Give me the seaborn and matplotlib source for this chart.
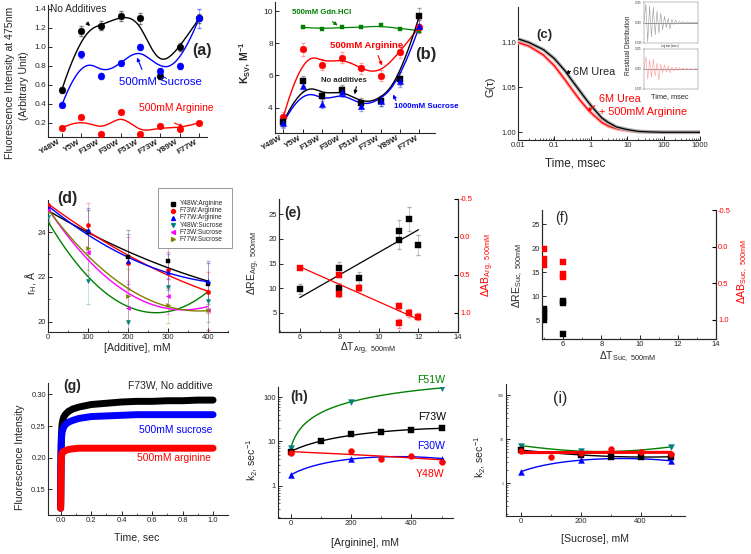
import numpy as np
import pandas as pd
import matplotlib
matplotlib.use("Agg")
import matplotlib.pyplot as plt
import seaborn as sns
from matplotlib.patches import FancyArrowPatch, Rectangle
from matplotlib.lines import Line2D
from matplotlib.ticker import FixedLocator, FixedFormatter, MultipleLocator, NullFormatter, LogLocator

sns.set_style("ticks")
plt.rcParams['font.family'] = ['Liberation Sans', 'DejaVu Sans']
plt.rcParams['mathtext.default'] = 'regular'
plt.rcParams['axes.linewidth'] = 0.8

# ---------------- data ----------------
mutants = ["Y48W", "Y5W", "F19W", "F30W", "F51W", "F73W", "Y89W", "F77W"]
# (a) fluorescence intensity at 475 nm
a_none = [0.545, 1.168, 1.224, 1.326, 1.30, 0.696, 0.999, 1.30]
a_none_err = [0.03, 0.05, 0.05, 0.05, 0.06, 0.03, 0.04, 0.05]
a_suc = [0.383, 0.921, 0.693, 0.826, 1.0, 0.742, 0.798, 1.30]
a_suc_err = [0.02, 0.04, 0.03, 0.03, 0.03, 0.03, 0.03, 0.10]
a_arg = [0.14, 0.256, 0.08, 0.313, 0.08, 0.161, 0.137, 0.20]

# (b) Ksv
b_none = [3.11, 5.66, 4.69, 5.12, 4.29, 4.42, 5.79, 9.71]
b_none_err = [0.3, 0.3, 0.3, 0.3, 0.3, 0.3, 0.4, 0.5]
b_arg = [3.42, 7.61, 6.67, 7.09, 6.43, 5.99, 7.47, 9.02]
b_arg_err = [0.3, 0.4, 0.35, 0.35, 0.35, 0.35, 0.4, 0.4]
b_suc = [3.05, 5.33, 4.25, 4.98, 4.08, 4.42, 5.64, 9.07]
b_suc_err = [0.3, 0.3, 0.3, 0.3, 0.3, 0.3, 0.35, 0.4]
b_gdn = [8.98, 8.90, 8.98, 8.98, 9.10, 8.90, 8.78]   # Y5W..F77W

# (c) FCS autocorrelation
c_time = [0.01, 0.02, 0.05, 0.1, 0.2, 0.3, 0.5, 0.7, 1, 2, 3, 5, 10, 20, 50, 100, 300, 1000]
c_urea = [1.104, 1.100, 1.092, 1.082, 1.068, 1.058, 1.046, 1.038, 1.030, 1.016, 1.011,
          1.006, 1.003, 1.001, 1.0003, 1.0, 1.0, 1.0]
c_urea_arg = [1.100, 1.096, 1.086, 1.074, 1.058, 1.048, 1.036, 1.029, 1.022, 1.011, 1.007,
              1.004, 1.002, 1.0007, 1.0002, 1.0, 1.0, 1.0]
res_idx = list(range(30))
res_urea = [0.0, 0.9, -0.95, 0.8, -0.7, 0.75, -0.6, 0.55, -0.5, 0.45, -0.35, 0.3, -0.25, 0.2,
            -0.3, 0.15, -0.1, 0.12, -0.08, 0.06, -0.05, 0.05, -0.04, 0.03, -0.03, 0.02, -0.02,
            0.01, 0.0, 0.0]
res_urea_arg = [0.0, 0.6, -0.5, 0.45, -0.4, 0.5, -0.35, 0.3, -0.55, 0.25, -0.2, 0.2, -0.15,
                0.15, -0.2, 0.1, -0.1, 0.1, -0.08, 0.08, -0.05, 0.05, -0.04, 0.04, -0.03, 0.02,
                -0.02, 0.01, 0.0, 0.0]

# (d) hydrodynamic radius
d_conc = [0, 100, 200, 300, 400]
d_labels = ["Y48W:Arginine", "F73W:Arginine", "F77W:Arginine",
            "Y48W:Sucrose", "F73W:Sucrose", "F77W:Sucrose"]
d_y48_arg = [25.0, 24.0, 22.9, 22.7, 21.7]
d_f73_arg = [25.2, 24.3, 22.6, 22.3, 21.3]
d_f77_arg = [25.1, 24.1, 22.7, 22.2, 21.8]
d_y48_suc = [24.7, 21.8, 20.0, 21.55, 20.9]
d_f73_suc = [25.0, 23.1, 20.6, 21.15, 20.5]
d_f77_suc = [24.9, 23.3, 21.15, 20.75, 20.5]
d_err = [0.6, 1.0, 1.2, 0.8, 0.9]

# (e) arginine correlations
e_dT = [6, 8, 8, 9, 11, 11, 11.5, 12]
e_dRE = [9.8, 14.0, 10.0, 12.0, 21.7, 19.8, 24.0, 18.8]
e_dRE_err = [1.0, 1.4, 1.0, 1.2, 2.2, 1.8, 2.4, 2.0]
e_dAB = [0.41, 0.50, 0.75, 0.675, 0.917, 1.14, 1.004, 1.05]
e_dAB_err = [0.02, 0.03, 0.04, 0.04, 0.05, 0.06, 0.05, 0.05]

# (f) sucrose correlations
f_dT_RE = [5, 5, 5, 5, 5, 6, 6, 6]
f_dRE = [5.0, 5.6, 6.2, 6.8, 7.2, 8.6, 8.9, 2.05]
f_dT_AB = [5, 5, 5, 6, 6, 6]
f_dAB = [0.032, 0.168, 0.25, 0.214, 0.377, 0.41]

# (g) stopped-flow kinetics F73W
g_time = [0.0, 0.002, 0.004, 0.006, 0.008, 0.01, 0.015, 0.02, 0.03, 0.05, 0.08, 0.12,
          0.2, 0.3, 0.4, 0.5, 0.6, 0.7, 0.8, 0.9, 1.0]
g_none = [0.125, 0.20, 0.228, 0.240, 0.248, 0.254, 0.260, 0.264, 0.268, 0.273, 0.277, 0.280,
          0.284, 0.286, 0.288, 0.289, 0.289, 0.290, 0.290, 0.291, 0.291]
g_suc = [0.12, 0.19, 0.222, 0.232, 0.237, 0.241, 0.245, 0.248, 0.252, 0.256, 0.259, 0.262,
         0.265, 0.266, 0.267, 0.268, 0.268, 0.268, 0.268, 0.268, 0.268]
g_arg = [0.12, 0.17, 0.195, 0.203, 0.206, 0.208, 0.209, 0.210, 0.211, 0.213, 0.214, 0.215,
         0.215, 0.215, 0.215, 0.215, 0.215, 0.215, 0.215, 0.215, 0.215]

# (h) k2 vs arginine
h_x_f51 = [0, 200, 500]; h_f51 = [7.0, 78.0, 160.0]
h_x_f73 = [0, 100, 200, 300, 400, 500]; h_f73 = [5.8, 10.0, 14.5, 16.0, 18.0, 20.0]
h_x_f30 = [0, 200, 500]; h_f30 = [1.75, 4.0, 4.1]
h_x_y48 = [0, 200, 300, 400, 500]; h_y48 = [5.5, 6.0, 4.0, 4.7, 3.5]

# (i) k2 vs sucrose
i_x_f51 = [0, 200, 500]; i_f51 = [7.1, 5.3, 6.6]
i_x_f73 = [0, 200, 300, 400, 500]; i_f73 = [5.6, 4.3, 4.0, 4.0, 3.9]
i_x_f30 = [0, 200, 500]; i_f30 = [1.8, 3.3, 3.2]
i_x_y48 = [0, 100, 200, 300, 400, 500]; i_y48 = [5.4, 3.9, 4.8, 6.0, 5.0, 4.6]

# ---------------- helpers ----------------
W, H = 751, 554
fig = plt.figure(figsize=(W / 100, H / 100), dpi=100)


def add_ax(l, t, r, b):
    return fig.add_axes([l / W, 1 - b / H, (r - l) / W, (b - t) / H])


def ftext(x, y, s, **kw):
    kw.setdefault('ha', 'left')
    kw.setdefault('va', 'center')
    fig.text(x / W, 1 - y / H, s, **kw)


def arrow(x0, y0, x1, y1, color):
    p = FancyArrowPatch((x0 / W, 1 - y0 / H), (x1 / W, 1 - y1 / H), transform=fig.transFigure,
                        arrowstyle='-|>', mutation_scale=5, lw=0.8, color=color)
    fig.add_artist(p)


def bspline(xp, yp, num=300):
    xp = np.asarray(xp, float); yp = np.asarray(yp, float)
    n = len(xp); k = 3
    kv = np.concatenate([np.zeros(k), np.arange(n - k + 1), np.full(k, n - k)]).astype(float)
    u = np.linspace(0, n - k, num)
    u[-1] -= 1e-9
    B = np.zeros((num, len(kv) - 1))
    for i in range(len(kv) - 1):
        B[:, i] = ((kv[i] <= u) & (u < kv[i + 1])).astype(float)
    for p in range(1, k + 1):
        Bn = np.zeros((num, len(kv) - 1 - p))
        for i in range(len(kv) - 1 - p):
            d1 = kv[i + p] - kv[i]; d2 = kv[i + p + 1] - kv[i + 1]
            t1 = (u - kv[i]) / d1 * B[:, i] if d1 > 0 else 0
            t2 = (kv[i + p + 1] - u) / d2 * B[:, i + 1] if d2 > 0 else 0
            Bn[:, i] = t1 + t2
        B = Bn
    return B @ xp, B @ yp


def style(ax, fs=5.5):
    sns.despine(ax=ax)
    ax.tick_params(direction='in', labelsize=fs, length=3, width=0.7, pad=1.5)
    ax.tick_params(which='minor', direction='in', length=1.5, width=0.5)


def pts(ax, x, y, color, marker, s, **kw):
    sns.scatterplot(x=list(x), y=list(y), ax=ax, color=color, marker=marker, s=s,
                    edgecolor=color, linewidth=0.3, zorder=4, legend=False, **kw)


def curve(ax, x, y, color, lw=1.0, **kw):
    sns.lineplot(x=np.asarray(x), y=np.asarray(y), ax=ax, color=color, lw=lw,
                 sort=False, estimator=None, zorder=3, **kw)


# ---------------- (a) ----------------
ax = add_ax(48, 5, 207, 137)
xi = np.arange(len(mutants))
for yv, err, col in [(a_none, a_none_err, 'black'), (a_suc, a_suc_err, 'blue'), (a_arg, None, 'red')]:
    bx, by = bspline(xi, yv)
    curve(ax, bx, by, col)
    if err is not None:
        ax.errorbar(xi, yv, yerr=err, fmt='none', ecolor=col, elinewidth=0.5, capsize=1.5, alpha=0.5)
    pts(ax, xi, yv, col, 'o', 24)
ax.set_xlim(-0.7, 7.4); ax.set_ylim(0.049, 1.442)
ax.set_xticks(xi); ax.set_xticklabels(mutants, rotation=30, ha='right', fontweight='bold', fontsize=5)
ax.set_yticks([0.2, 0.4, 0.6, 0.8, 1.0, 1.2, 1.4])
ax.set_yticklabels(["0.2", "0.4", "0.6", "0.8", "1.0", "1.2", "1.4"])
style(ax, 6)
ax.tick_params(axis='x', pad=1)
ax.set_xlabel(""); ax.set_ylabel("")
ftext(10, 83, "Fluorescence Intensity at 475nm", rotation=90, ha='center', fontsize=7.6)
ftext(24, 86, "(Arbitrary Unit)", rotation=90, ha='center', fontsize=7.6)
ftext(50, 9, "No Additives", fontsize=7.3)
ftext(202, 51, "(a)", ha='center', fontsize=11.5, fontweight='bold')
ftext(119, 82, "500mM Sucrose", fontsize=8.2, color='blue')
ftext(139, 108, "500mM Arginine", fontsize=7.4, color='red')
arrow(85, 21, 92, 28, 'black')
arrow(143, 72, 136, 55, 'blue')
arrow(172, 122, 186, 128, 'red')

# ---------------- (b) ----------------
ax = add_ax(275, 2, 435, 133)
bx, by = bspline(xi[1:], b_gdn)
curve(ax, bx, by, '#008000', lw=0.9)
pts(ax, xi[1:], b_gdn, '#008000', 's', 6)
for yv, err, col, mk in [(b_arg, b_arg_err, 'red', 'o'), (b_none, b_none_err, 'black', 's'),
                         (b_suc, b_suc_err, 'blue', '^')]:
    bx, by = bspline(xi, yv)
    curve(ax, bx, by, col)
    ax.errorbar(xi, yv, yerr=err, fmt='none', ecolor=col, elinewidth=0.5, capsize=1.5, alpha=0.35)
    pts(ax, xi, yv, col, mk, 24 if mk == 'o' else 20)
ax.set_xlim(-0.43, 7.8); ax.set_ylim(2.42, 10.56)
ax.set_xticks(xi); ax.set_xticklabels(mutants, rotation=30, ha='right', fontweight='bold', fontsize=5)
ax.set_yticks([4, 6, 8, 10])
style(ax, 6)
ax.tick_params(axis='x', pad=1)
ax.set_xlabel(""); ax.set_ylabel("")
ftext(245, 63, "K$_{SV}$, M$^{-1}$", rotation=90, ha='center', fontsize=7.5, fontweight='bold')
ftext(292, 13, "500mM Gdn.HCl", fontsize=5.6, fontweight='bold', color='#008000')
ftext(330, 45, "500mM Arginine", fontsize=6.8, fontweight='bold', color='red')
ftext(426, 55, "(b)", ha='center', fontsize=12, fontweight='bold')
ftext(321, 80, "No additives", fontsize=5.6, fontweight='bold')
ftext(394, 107, "1000mM Sucrose", fontsize=5.7, fontweight='bold', color='blue')
arrow(330, 20, 340, 27, '#008000')
arrow(377, 53, 383, 68, 'red')
arrow(357, 84, 354, 97, 'black')
arrow(397, 103, 392, 92, 'blue')

# ---------------- (c) ----------------
ax = add_ax(518, 7, 700, 140)
for yv, col, halo in [(c_urea_arg, 'red', '#ffaaaa'), (c_urea, 'black', '#aaaaaa')]:
    curve(ax, c_time, yv, halo, lw=2.6)
    curve(ax, c_time, yv, col, lw=0.9)
ax.set_xscale('log')
ax.set_xlim(0.01, 1000); ax.set_ylim(0.9914, 1.1395)
ax.xaxis.set_major_locator(FixedLocator([0.01, 0.1, 1, 10, 100, 1000]))
ax.xaxis.set_major_formatter(FixedFormatter(["0.01", "0.1", "1", "10", "100", "1000"]))
ax.xaxis.set_minor_locator(LogLocator(base=10, subs=np.arange(2, 10)))
ax.xaxis.set_minor_formatter(NullFormatter())
ax.set_yticks([1.00, 1.05, 1.10]); ax.set_yticklabels(["1.00", "1.05", "1.10"])
style(ax, 5.5)
ax.set_xlabel(""); ax.set_ylabel("")
ftext(490, 87, "G(τ)", rotation=90, ha='center', fontsize=8)
ftext(575, 164, "Time, msec", ha='center', fontsize=8.5)
ftext(544, 35, "(c)", ha='center', fontsize=9.5, fontweight='bold')
ftext(573, 72, "6M Urea", fontsize=7.9)
ftext(599, 99, "6M Urea", fontsize=7.8, color='red')
ftext(599, 112, "+ 500mM Arginine", fontsize=7.8, color='red')
arrow(573, 70, 563, 75, 'black')
arrow(597, 104, 585, 113, 'red')
for (t, b), yv, col in [((2, 43), res_urea, '#999999'), ((49, 89), res_urea_arg, '#ff9999')]:
    ia = add_ax(644, t, 698, b)
    curve(ia, res_idx, yv, col, lw=0.4)
    ia.axhline(0, color='#444444', lw=0.4)
    ia.set_xlim(0, 29); ia.set_ylim(-1.0, 1.0)
    ia.set_xticks([]); ia.set_yticks([-1.0, 0.0, 1.0])
    ia.set_yticklabels(["-0.005", "0.000", "0.005"], fontsize=1.8)
    ia.tick_params(length=1, width=0.3, pad=0.5)
    for sp in ia.spines.values():
        sp.set_linewidth(0.3); sp.set_color('#666666')
    ia.set_xlabel(""); ia.set_ylabel("")
ftext(629, 45, "Residual Distribution", rotation=90, ha='center', fontsize=4.7)
ftext(670, 97, "Time, msec", ha='center', fontsize=5.3)
ftext(670, 46, "Lag time (msec)", ha='center', fontsize=1.8)

# ---------------- (d) ----------------
ax = add_ax(48, 200, 228, 332)
d_series = [d_y48_arg, d_f73_arg, d_f77_arg, d_y48_suc, d_f73_suc, d_f77_suc]
d_mcol = ['black', 'red', 'blue', '#008080', '#ff00ff', '#808000']
d_lcol = ['black', 'red', 'blue', '#008000', '#ff00ff', '#808000']
d_mk = ['s', 'o', '^', 'v', '<', '>']
xs = np.linspace(0, 400, 120)
for yv, mc, lc, mk in zip(d_series, d_mcol, d_lcol, d_mk):
    cf = np.polyfit(d_conc, yv, 2)
    curve(ax, xs, np.polyval(cf, xs), lc, lw=1.0)
    ax.errorbar(d_conc, yv, yerr=d_err, fmt='none', ecolor=mc, elinewidth=0.5, capsize=1.2, alpha=0.3)
    pts(ax, d_conc, yv, mc, mk, 9)
ax.set_xlim(0, 450); ax.set_ylim(19.53, 25.44)
ax.set_xticks([0, 100, 200, 300, 400]); ax.xaxis.set_minor_locator(MultipleLocator(50))
ax.set_yticks([20, 22, 24]); ax.yaxis.set_minor_locator(MultipleLocator(1))
style(ax, 5.5)
ax.set_xlabel(""); ax.set_ylabel("")
# legend box drawn by hand to match the original layout
fig.add_artist(Rectangle((158 / W, 1 - 248 / H), 74 / W, 60 / H, transform=fig.transFigure,
                         fill=True, facecolor='white', edgecolor='#888888', lw=0.6, zorder=5))
for k, (lab, mc, mk) in enumerate(zip(d_labels, d_mcol, d_mk)):
    yy = 203.7 + k * 7.12
    fig.add_artist(Line2D([173 / W], [1 - yy / H], transform=fig.transFigure, ls='none',
                          marker=mk, color=mc, markersize=2.8, zorder=6))
    ftext(180, yy, lab, fontsize=4.7, zorder=6)
ftext(31, 283, "r$_H$, Å", rotation=90, ha='center', fontsize=7.6)
ftext(137, 348, "[Additive], mM", ha='center', fontsize=7.6)
ftext(67, 199, "(d)", ha='center', fontsize=11.5, fontweight='bold')

# ---------------- (e) ----------------
ax = add_ax(279, 199, 458, 332)
xs = np.linspace(6, 12, 50)
cf = np.polyfit(e_dT, e_dRE, 1)
curve(ax, xs, np.polyval(cf, xs), 'black', lw=0.9)
ax.errorbar(e_dT, e_dRE, yerr=e_dRE_err, fmt='none', ecolor='gray', elinewidth=0.5, capsize=1.5, alpha=0.6)
pts(ax, e_dT, e_dRE, 'black', 's', 18)
ax.set_xlim(4.95, 14); ax.set_ylim(1.09, 28.1)
ax.set_xticks([6, 8, 10, 12, 14]); ax.xaxis.set_minor_locator(MultipleLocator(1))
ax.set_yticks([5, 10, 15, 20, 25])
style(ax, 5.5)
ax.spines['right'].set_visible(True)
ax.set_xlabel(""); ax.set_ylabel("")
ax2 = ax.twinx()
cf = np.polyfit(e_dT, e_dAB, 1)
curve(ax2, xs, np.polyval(cf, xs), 'red', lw=0.9)
ax2.errorbar(e_dT, e_dAB, yerr=e_dAB_err, fmt='none', ecolor='#ff8888', elinewidth=0.5, capsize=1.5)
pts(ax2, e_dT, e_dAB, 'red', 's', 18)
ax2.set_ylim(1.254, -0.5)
ax2.set_yticks([-0.5, 0.0, 0.5, 1.0]); ax2.set_yticklabels(["-0.5", "0.0", "0.5", "1.0"])
ax2.tick_params(axis='y', direction='in', labelsize=5.5, colors='red', length=3, pad=1.5)
ax2.tick_params(axis='y', which='major', color='black')
ax2.spines['top'].set_visible(False)
ax2.set_xlabel(""); ax2.set_ylabel("")
ftext(254, 263, "ΔRE$_{Arg,\\ 500mM}$", rotation=90, ha='center', fontsize=7.5)
ftext(488, 265, "ΔAB$_{Arg,\\ 500mM}$", rotation=90, ha='center', fontsize=7.5, color='red')
ftext(368, 349, "ΔT$_{Arg,\\ 500mM}$", ha='center', fontsize=7.5)
ftext(293, 213, "(e)", ha='center', fontsize=10, fontweight='bold')

# ---------------- (f) ----------------
ax = add_ax(542, 210, 716, 339)
pts(ax, f_dT_RE, f_dRE, 'black', 's', 18)
ax.set_xlim(4.9, 14); ax.set_ylim(1.03, 28.0)
ax.set_xticks([6, 8, 10, 12, 14]); ax.xaxis.set_minor_locator(MultipleLocator(1))
ax.set_yticks([5, 10, 15, 20, 25])
style(ax, 5.5)
ax.spines['right'].set_visible(True)
ax.set_xlabel(""); ax.set_ylabel("")
ax2 = ax.twinx()
pts(ax2, f_dT_AB, f_dAB, 'red', 's', 18)
ax2.set_ylim(1.26, -0.5)
ax2.set_yticks([-0.5, 0.0, 0.5, 1.0]); ax2.set_yticklabels(["-0.5", "0.0", "0.5", "1.0"])
ax2.tick_params(axis='y', direction='in', labelsize=5.5, colors='red', length=3, pad=1.5)
ax2.tick_params(axis='y', which='major', color='black')
ax2.spines['top'].set_visible(False)
ax2.set_xlabel(""); ax2.set_ylabel("")
ftext(518, 275, "ΔRE$_{Suc,\\ 500mM}$", rotation=90, ha='center', fontsize=7.5)
ftext(743, 272, "ΔAB$_{Suc,\\ 500mM}$", rotation=90, ha='center', fontsize=7.5, color='red')
ftext(628, 357, "ΔT$_{Suc,\\ 500mM}$", ha='center', fontsize=7.5)
ftext(562, 218, "(f)", ha='center', fontsize=10)

# ---------------- (g) ----------------
ax = add_ax(48, 383, 228, 515)
for yv, col in [(g_none, 'black'), (g_suc, 'blue'), (g_arg, 'red')]:
    curve(ax, g_time, yv, col, lw=5.0)
ax.set_xlim(-0.083, 1.098); ax.set_ylim(0.1095, 0.318)
ax.set_xticks([0.0, 0.2, 0.4, 0.6, 0.8, 1.0]); ax.xaxis.set_minor_locator(MultipleLocator(0.1))
ax.set_yticks([0.15, 0.20, 0.25, 0.30]); ax.set_yticklabels(["0.15", "0.20", "0.25", "0.30"])
style(ax, 5.5)
ax.set_xlabel(""); ax.set_ylabel("")
ftext(20, 457, "Fluorescence Intensity", rotation=90, ha='center', fontsize=7.6)
ftext(137, 537, "Time, sec", ha='center', fontsize=7.6)
ftext(72, 386, "(g)", ha='center', fontsize=10, fontweight='bold')
ftext(128, 386, "F73W, No additive", fontsize=7.5)
ftext(139, 430, "500mM sucrose", fontsize=7.4, color='blue')
ftext(137, 458, "500mM arginine", fontsize=7.4, color='red')


# ---------------- (h) & (i) ----------------
def kin_panel(ax, sets, red_lw):
    xs = np.linspace(0, 500, 150)
    for (x, y), mc, lc, mk, deg, lw in zip(sets, ['#008080', 'black', 'blue', 'red'],
                                           ['#008000', 'black', 'blue', 'red'],
                                           ['v', 's', '^', 'o'], [2, 2, 2, 1], [1.0, 1.0, 1.0, red_lw]):
        cf = np.polyfit(x, y, deg)
        curve(ax, xs, np.polyval(cf, xs), lc, lw=lw)
        pts(ax, x, y, mc, mk, 18)
    ax.set_yscale('log')
    ax.set_xticks([0, 200, 400])
    ax.xaxis.set_minor_locator(MultipleLocator(100))
    ax.yaxis.set_major_locator(FixedLocator([1, 10, 100]))
    ax.yaxis.set_minor_locator(LogLocator(base=10, subs=np.arange(2, 10)))
    ax.yaxis.set_minor_formatter(NullFormatter())
    ax.set_xlabel(""); ax.set_ylabel("")


ax = add_ax(278, 387, 453, 518)
kin_panel(ax, [(h_x_f51, h_f51), (h_x_f73, h_f73), (h_x_f30, h_f30), (h_x_y48, h_y48)], 1.0)
ax.set_xlim(-42, 538); ax.set_ylim(0.188, 168)
ax.yaxis.set_major_formatter(FixedFormatter(["1", "10", "100"]))
style(ax, 5.5)
ftext(252, 460, "k$_2$, sec$^{-1}$", rotation=90, ha='center', fontsize=7.6)
ftext(365, 543, "[Arginine], mM", ha='center', fontsize=7.6)
ftext(299, 397, "(h)", ha='center', fontsize=10, fontweight='bold')
ftext(417, 380, "F51W", fontsize=7.6, color='#008000')
ftext(418, 417, "F73W", fontsize=7.6, color='black')
ftext(417, 446, "F30W", fontsize=7.6, color='blue')
ftext(416, 474, "Y48W", fontsize=7.6, color='red')

ax = add_ax(506, 384, 685, 516)
kin_panel(ax, [(i_x_f51, i_f51), (i_x_f73, i_f73), (i_x_f30, i_f30), (i_x_y48, i_y48)], 2.2)
ax.set_xlim(-49, 548); ax.set_ylim(0.178, 178)
ax.yaxis.set_major_formatter(FixedFormatter(["1", "10", "100"]))
style(ax, 5.5)
ax.tick_params(axis='y', labelsize=2.5)
ftext(480, 457, "k$_2$, sec$^{-1}$", rotation=90, ha='center', fontsize=7.6)
ftext(595, 539, "[Sucrose], mM", ha='center', fontsize=7.6)
ftext(560, 398, "(i)", ha='center', fontsize=11.5)

fig.savefig("out.png", dpi=100)
